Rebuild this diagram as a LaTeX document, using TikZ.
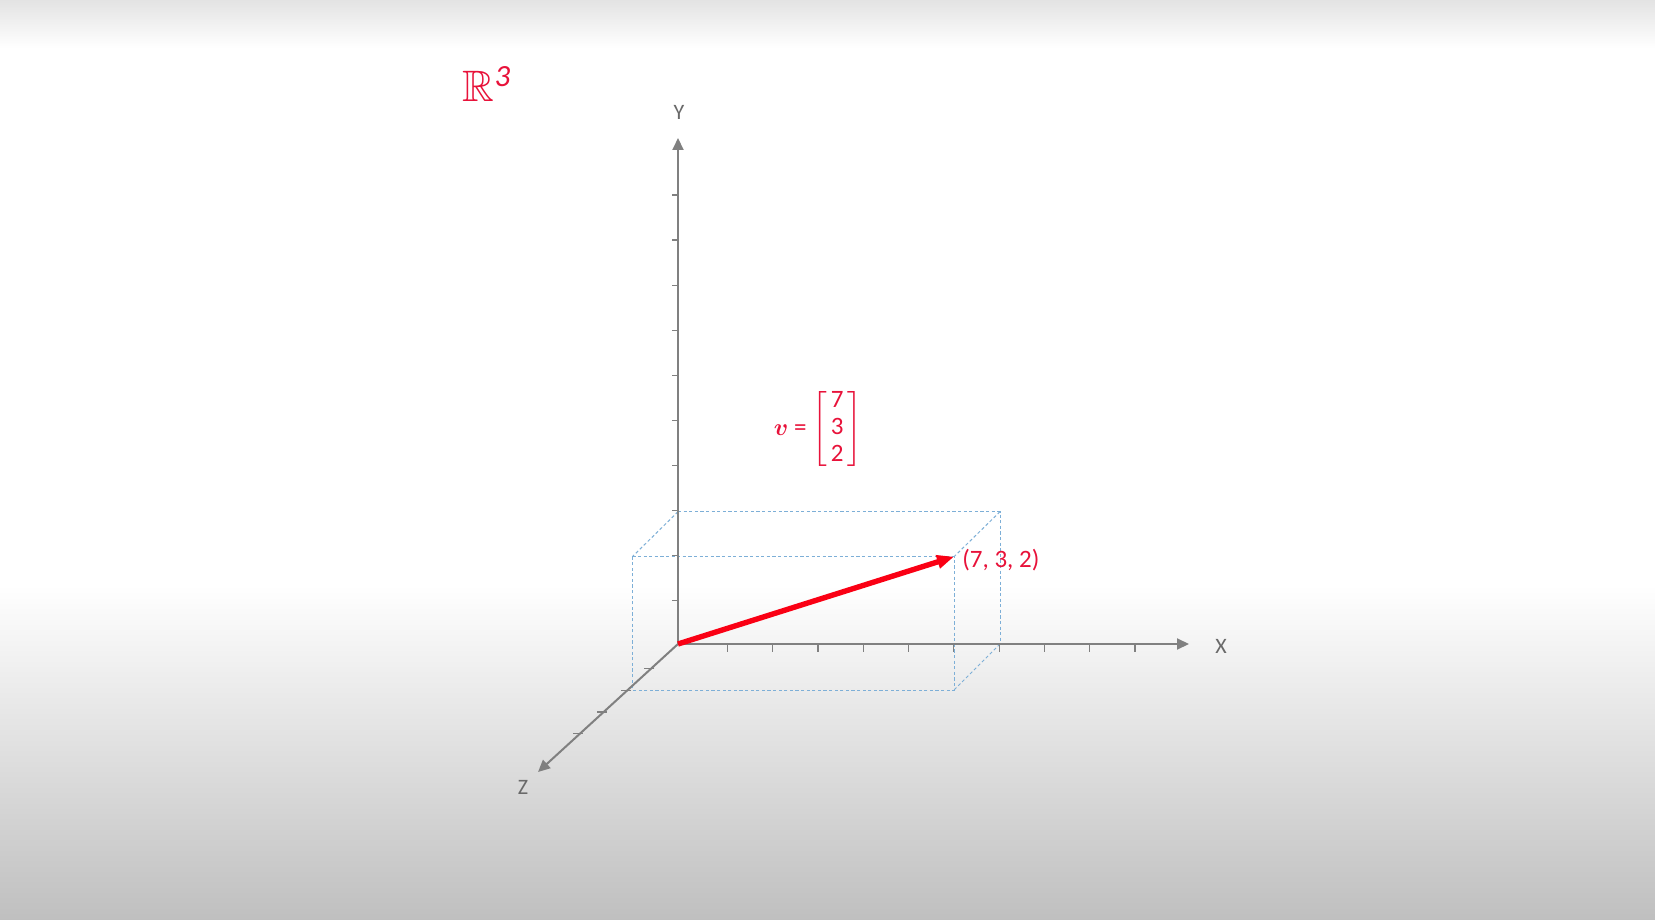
\documentclass[tikz,border=0pt]{standalone}
\usepackage{amsmath, amssymb, bm}
\usepackage{fontspec}
\setmainfont{Carlito}
\usetikzlibrary{arrows.meta, positioning, calc}

\definecolor{axisgray}{RGB}{128,128,128}
\definecolor{labelgray}{RGB}{105,105,105}
\definecolor{guideblue}{RGB}{125,175,215}
\definecolor{vecred}{RGB}{250,0,20}
\definecolor{textred}{RGB}{232,18,58}

\begin{document}
\begin{tikzpicture}[x=0.5pt, y=-0.5pt,
        axis/.style={draw=axisgray, line width=1pt, -{Triangle[length=6pt, width=5.5pt]}},
        tickmark/.style={draw=axisgray, line width=0.6pt},
        guide/.style={draw=guideblue, line width=0.5pt, dash pattern=on 1.6pt off 1.2pt},
        vec/.style={draw=vecred, line width=2.7pt, -{Triangle[length=8.5pt, width=6.5pt]}},
        axlabel/.style={text=labelgray, font=\fontsize{11}{13}\selectfont},
        redlabel/.style={text=textred, font=\fontsize{12.5}{13.5}\selectfont}]
    % background
    \useasboundingbox (0,0) rectangle (1655,920);
    \fill[white] (0,0) rectangle (1655,920);
    \shade[top color=gray!22, bottom color=white] (0,0) rectangle (1655,48);
    \shade[top color=white, bottom color=gray!50] (0,585) rectangle (1655,920);

    \coordinate (O) at (678,644);
    \coordinate (xend) at (1189,644);
    \coordinate (yend) at (678,138);
    \coordinate (zend) at (538,772);
    % box corners
    \coordinate (B1) at (678,511.7);
    \coordinate (B2) at (1000,511.7);
    \coordinate (B3) at (1000,644);
    \coordinate (F1) at (632.3,556.7);
    \coordinate (P) at (954,556.7);
    \coordinate (F3) at (954,690);
    \coordinate (F4) at (632.3,690);

    \draw[guide] (B1) -- (B2) -- (B3);
    \draw[guide] (B1) -- (F1);
    \draw[guide] (B2) -- (P);
    \draw[guide] (B3) -- (F3);
    \draw[guide] (F1) -- (P) -- (F3) -- (F4) -- cycle;

    % axes
    \draw[axis] (O) -- (xend);
    \draw[axis] (O) -- (yend);
    \draw[axis] (O) -- (zend);
    \foreach \i in {1,...,10}
        \draw[tickmark] ($(O)+(4+45.3*\i,0)$) -- ++(0,8);
    \foreach \i in {1,...,10}
        \draw[tickmark] ($(O)+(0,1.5-45.05*\i)$) -- ++(-6,0);
    \foreach \i [evaluate=\i as \s using (2.6+21.7*\i)/127.6] in {1,...,4}
        \draw[tickmark] ($(O)!\s!(zend)$) ++(3,0) -- ++(-10,0);

    \node[axlabel] (xlabel) at (1221,646) {X};
    \node[axlabel] (ylabel) at (679,112) {Y};
    \node[axlabel] (zlabel) at (523,787) {Z};

    % vector
    \draw[vec] (O) -- (P);
    \node[redlabel, anchor=west, inner sep=0pt] (ptlabel) at (962,560) {(7, 3, 2)};
    \node[redlabel] (veq) at (818,429) {$\bm{v}$ = $\left[\begin{array}{@{\,}c@{\,}}\mbox{7}\\\mbox{3}\\\mbox{2}\end{array}\right]$};
    \node[text=textred, font=\fontsize{22}{24}\selectfont] (rspace) at (487,84) {$\mathbb{R}^{\mathit{3}}$};
\end{tikzpicture}
\end{document}
